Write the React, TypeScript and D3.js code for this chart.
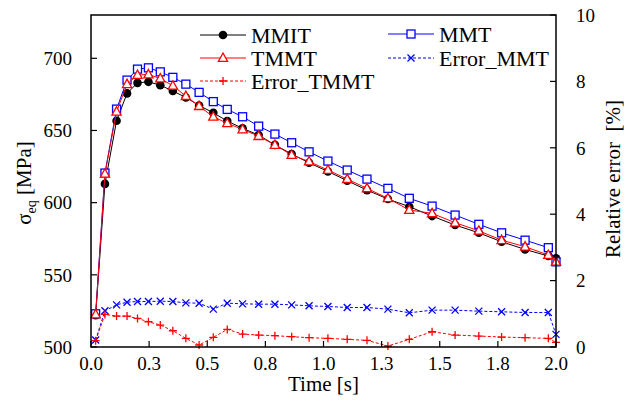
import React, { useRef, useEffect } from 'react';
import * as d3 from 'd3';

// ==================== DATA ====================
const times = [0.02, 0.06, 0.11, 0.155, 0.2, 0.247, 0.298, 0.352, 0.408, 0.465, 0.526, 0.586, 0.652, 0.721, 0.791, 0.863, 0.938, 1.019, 1.102, 1.187, 1.277, 1.369, 1.467, 1.566, 1.668, 1.766, 1.867, 1.967, 2.0];

const mmit = [522, 613, 656.7, 675.7, 683, 683.7, 681.4, 677.3, 672.9, 667.3, 662.3, 656.5, 651.5, 646.8, 640, 633.7, 627.6, 621.6, 615.2, 608.7, 602.5, 597.2, 590.7, 584.5, 579.1, 572.9, 567.6, 563, 561.4];
const mmt = [523, 620.5, 664.8, 684.9, 692.5, 693.4, 690.6, 686.8, 682.1, 676.4, 670, 664.6, 659.5, 653, 647.5, 641.5, 635.2, 628.8, 622.6, 616.3, 609.9, 603, 597.6, 591.4, 585, 579.1, 574, 568.8, 559];
const tmmt = [522.5, 620, 663, 682.1, 688.4, 688.8, 686, 681, 673.8, 666.9, 659.5, 655, 650.7, 646.1, 640, 633, 628.5, 622.6, 616.3, 609.9, 603, 594.9, 592.6, 586.1, 580.5, 574, 569.5, 563.7, 559];
const errorMmt = [0.21, 1.09, 1.27, 1.35, 1.37, 1.37, 1.38, 1.37, 1.33, 1.32, 1.14, 1.32, 1.3, 1.29, 1.29, 1.27, 1.24, 1.22, 1.19, 1.19, 1.14, 1.03, 1.11, 1.11, 1.08, 1.06, 1.04, 1.04, 0.38];
const errorTmmt = [0.19, 0.98, 0.93, 0.93, 0.86, 0.76, 0.66, 0.49, 0.26, 0.06, 0.29, 0.53, 0.39, 0.36, 0.34, 0.31, 0.28, 0.26, 0.23, 0.2, 0.03, 0.23, 0.46, 0.36, 0.33, 0.3, 0.28, 0.26, 0.14];

const xTicks = [0, 0.25, 0.5, 0.75, 1.0, 1.25, 1.5, 1.75, 2.0];
const xTickLabels = ['0.0', '0.3', '0.5', '0.8', '1.0', '1.3', '1.5', '1.8', '2.0'];
const yTicks = [500, 550, 600, 650, 700];
const y2Ticks = [0, 2, 4, 6, 8, 10];

// ==================== CONFIG ====================
const W = 629;
const H = 405;
const M = { left: 91, right: 556, top: 15, bottom: 347 };
const FONT = '"Liberation Serif", "DejaVu Serif", serif';

const App = () => {
    const svgRef = useRef(null);

    useEffect(() => {
        const svg = d3.select(svgRef.current);
        svg.selectAll('*').remove();

        const x = d3.scaleLinear().domain([0, 2]).range([M.left, M.right]);
        const y = d3.scaleLinear().domain([500, 730]).range([M.bottom, M.top]);
        const y2 = d3.scaleLinear().domain([0, 10]).range([M.bottom, M.top]);

        svg.append('rect').attr('width', W).attr('height', H).attr('fill', '#fff');

        // ---------- series ----------
        const series = [
            { name: 'MMIT', vals: mmit, scale: y, color: '#000', dash: null, marker: 'circle' },
            { name: 'MMT', vals: mmt, scale: y, color: '#0000ff', dash: null, marker: 'square' },
            { name: 'TMMT', vals: tmmt, scale: y, color: '#ff0000', dash: null, marker: 'triangle' },
            { name: 'Error_MMT', vals: errorMmt, scale: y2, color: '#0000ff', dash: '3,2', marker: 'cross' },
            { name: 'Error_TMMT', vals: errorTmmt, scale: y2, color: '#ff0000', dash: '3,2', marker: 'plus' },
        ];

        const drawMarker = (g, type, color, cx, cy) => {
            if (type === 'circle') {
                g.append('circle').attr('cx', cx).attr('cy', cy).attr('r', 4.3).attr('fill', color);
            } else if (type === 'square') {
                g.append('rect').attr('x', cx - 4).attr('y', cy - 4).attr('width', 8).attr('height', 8)
                    .attr('fill', '#fff').attr('stroke', color).attr('stroke-width', 1.3);
            } else if (type === 'triangle') {
                g.append('path').attr('d', `M${cx},${cy - 5} L${cx + 4.6},${cy + 3.4} L${cx - 4.6},${cy + 3.4} Z`)
                    .attr('fill', '#fff').attr('stroke', color).attr('stroke-width', 1.3);
            } else if (type === 'cross') {
                g.append('path').attr('d', `M${cx - 3.5},${cy - 3.5} L${cx + 3.5},${cy + 3.5} M${cx - 3.5},${cy + 3.5} L${cx + 3.5},${cy - 3.5}`)
                    .attr('stroke', color).attr('stroke-width', 1.3);
            } else if (type === 'plus') {
                g.append('path').attr('d', `M${cx - 4},${cy} L${cx + 4},${cy} M${cx},${cy - 4} L${cx},${cy + 4}`)
                    .attr('stroke', color).attr('stroke-width', 1.3);
            }
        };

        series.forEach(s => {
            const line = d3.line().x((d, i) => x(times[i])).y(d => s.scale(d));
            svg.append('path')
                .datum(s.vals)
                .attr('d', line)
                .attr('fill', 'none')
                .attr('stroke', s.color)
                .attr('stroke-width', 1)
                .attr('stroke-dasharray', s.dash);
            const mg = svg.append('g');
            s.vals.forEach((v, i) => drawMarker(mg, s.marker, s.color, x(times[i]), s.scale(v)));
        });

        // ---------- frame & ticks ----------
        svg.append('rect')
            .attr('x', M.left).attr('y', M.top)
            .attr('width', M.right - M.left).attr('height', M.bottom - M.top)
            .attr('fill', 'none').attr('stroke', '#000').attr('stroke-width', 1.5);

        const txt = (sel, size) => sel.style('font-family', FONT).style('font-size', `${size}px`);

        const tickLen = 6;
        xTicks.forEach((t, i) => {
            svg.append('line').attr('x1', x(t)).attr('x2', x(t)).attr('y1', M.bottom).attr('y2', M.bottom - tickLen)
                .attr('stroke', '#000').attr('stroke-width', 1.2);
            txt(svg.append('text').attr('x', x(t)).attr('y', 370).attr('text-anchor', 'middle'), 19)
                .text(xTickLabels[i]);
        });
        yTicks.forEach(t => {
            svg.append('line').attr('x1', M.left).attr('x2', M.left + tickLen).attr('y1', y(t)).attr('y2', y(t))
                .attr('stroke', '#000').attr('stroke-width', 1.2);
            txt(svg.append('text').attr('x', 72).attr('y', y(t)).attr('dy', '0.36em').attr('text-anchor', 'end'), 19)
                .text(t);
        });
        y2Ticks.forEach(t => {
            svg.append('line').attr('x1', M.right).attr('x2', M.right - tickLen).attr('y1', y2(t)).attr('y2', y2(t))
                .attr('stroke', '#000').attr('stroke-width', 1.2);
            txt(svg.append('text').attr('x', 576).attr('y', y2(t)).attr('dy', '0.36em').attr('text-anchor', 'start'), 19)
                .text(t);
        });

        // ---------- axis titles ----------
        txt(svg.append('text').attr('x', (M.left + M.right) / 2).attr('y', 391).attr('text-anchor', 'middle'), 21)
            .text('Time [s]');

        const yl = txt(svg.append('text')
            .attr('transform', 'translate(31,183) rotate(-90)')
            .attr('text-anchor', 'middle'), 21);
        yl.append('tspan').text('σ');
        yl.append('tspan').style('font-size', '14px').attr('dy', 5).text('eq');
        yl.append('tspan').attr('dy', -5).text(' [MPa]');

        txt(svg.append('text')
            .attr('transform', 'translate(620,179) rotate(-90)')
            .attr('text-anchor', 'middle'), 21)
            .style('white-space', 'pre')
            .text('Relative error  [%]');

        // ---------- legend ----------
        const legendPos = [
            { x0: 200, x1: 246, y: 35 },   // MMIT
            { x0: 388, x1: 434, y: 34 },   // MMT
            { x0: 200, x1: 246, y: 58 },   // TMMT
            { x0: 388, x1: 434, y: 58 },   // Error_MMT
            { x0: 200, x1: 246, y: 81 },   // Error_TMMT
        ];
        const legendOrder = ['MMIT', 'MMT', 'TMMT', 'Error_MMT', 'Error_TMMT'];
        legendOrder.forEach((name, i) => {
            const s = series.find(d => d.name === name);
            const p = legendPos[i];
            const lg = svg.append('g');
            lg.append('line').attr('x1', p.x0).attr('x2', p.x1).attr('y1', p.y).attr('y2', p.y)
                .attr('stroke', s.color).attr('stroke-width', 1).attr('stroke-dasharray', s.dash);
            drawMarker(lg, s.marker, s.color, (p.x0 + p.x1) / 2, p.y);
            txt(lg.append('text').attr('x', p.x1 + 5).attr('y', p.y).attr('dy', '0.35em'), 22).text(name);
        });
    }, []);

    return (
        <svg ref={svgRef} width={W} height={H}
            style={{ position: 'absolute', left: 0, top: 0, display: 'block' }} />
    );
};

export default App;
